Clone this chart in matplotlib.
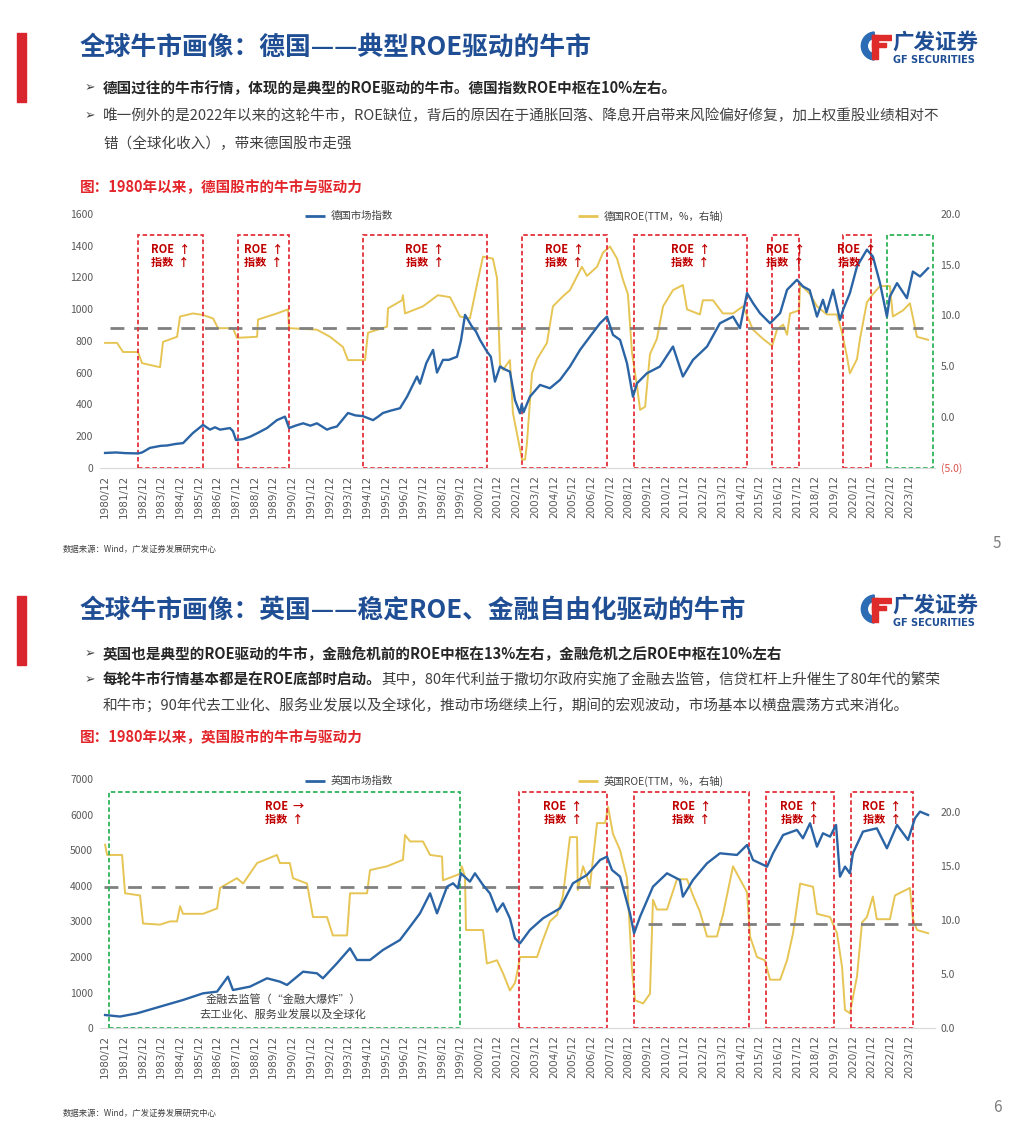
import matplotlib
matplotlib.use("Agg")
import matplotlib.pyplot as plt
from matplotlib.patches import Rectangle, Wedge
from matplotlib.lines import Line2D

plt.rcParams['font.family'] = ['Noto Sans CJK SC', 'DejaVu Sans']

W, H = 1024, 1126

# ---------------- data (decimal years) ----------------
# Germany market index (left axis)
de_idx_t = [1980.92, 1981.5, 1982.0, 1982.68, 1982.9, 1983.32, 1983.9, 1984.23, 1984.7, 1985.09,
            1985.62, 1986.16, 1986.53, 1986.8, 1987.07, 1987.6, 1987.76, 1987.92, 1988.3, 1988.67,
            1989.1, 1989.58, 1990.11, 1990.54, 1990.76, 1991.1, 1991.51, 1991.9, 1992.25, 1992.79,
            1993.0, 1993.32, 1993.91, 1994.3, 1994.71, 1995.25, 1995.5, 1995.78, 1996.2, 1996.69,
            1997.07, 1997.6, 1997.76, 1998.1, 1998.46, 1998.67, 1998.99, 1999.3, 1999.74, 1999.95,
            2000.17, 2000.54, 2000.75, 2000.97, 2001.34, 2001.55, 2001.77, 2002.04, 2002.3, 2002.57,
            2002.84, 2003.11, 2003.2, 2003.3, 2003.64, 2004.18, 2004.71, 2005.25, 2005.78, 2006.32,
            2006.85, 2007.39, 2007.76, 2008.08, 2008.46, 2008.83, 2009.15, 2009.37, 2009.6, 2009.9,
            2010.59, 2011.29, 2011.82, 2012.36, 2013.11, 2013.8, 2014.5, 2014.87, 2015.25, 2015.57,
            2015.94, 2016.48, 2017.02, 2017.39, 2017.92, 2018.24, 2018.6, 2018.99, 2019.31, 2019.5,
            2019.85, 2020.22, 2020.4, 2020.75, 2021.13, 2021.66, 2021.98, 2022.36, 2022.73, 2022.89,
            2023.27, 2023.8, 2024.12, 2024.5, 2024.93]
de_idx_v = [93, 96, 92, 90, 96, 125, 138, 140, 150, 155,
            219, 270, 240, 255, 240, 250, 230, 175, 180, 195,
            220, 250, 300, 322, 250, 265, 280, 265, 280, 240,
            250, 260, 345, 330, 325, 300, 320, 345, 360, 375,
            448, 575, 530, 660, 743, 600, 680, 680, 700, 800,
            964, 890, 860, 806, 733, 700, 543, 638, 620, 606,
            427, 343, 400, 350, 448, 522, 501, 554, 638, 743,
            827, 911, 953, 838, 806, 659, 448, 533, 560, 596,
            638, 764, 575, 680, 764, 911, 953, 880, 1101, 1038,
            975, 911, 975, 1122, 1185, 1143, 1120, 953, 1059, 980,
            1122, 932, 1000, 1101, 1269, 1375, 1332, 1164, 953, 1080,
            1164, 1069, 1237, 1206, 1258]

# Germany ROE (TTM, %, right axis)
de_roe_t = [1980.92, 1981.56, 1981.88, 1982.68, 1982.9, 1983.86, 1984.02, 1984.77, 1984.93, 1985.62,
            1986.16, 1986.7, 1986.96, 1987.76, 1987.97, 1989.05, 1989.1, 1990.11, 1990.7, 1990.76,
            1992.25, 1992.95, 1993.64, 1993.91, 1994.82, 1994.98, 1996.0, 1996.05, 1996.8, 1996.85,
            1996.96, 1997.92, 1998.72, 1999.37, 1999.9, 2000.43, 2000.86, 2001.13, 2001.66, 2001.88,
            2002.04, 2002.2, 2002.57, 2002.73, 2003.22, 2003.38, 2003.48, 2003.75, 2004.02, 2004.55,
            2004.87, 2005.41, 2005.78, 2006.42, 2006.69, 2007.23, 2007.55, 2007.92, 2008.3, 2008.62,
            2008.88, 2009.1, 2009.37, 2009.53, 2009.8, 2010.06, 2010.43, 2010.76, 2011.29, 2011.82,
            2012.04, 2012.73, 2012.89, 2013.43, 2013.96, 2014.5, 2015.03, 2015.57, 2016.1, 2016.59,
            2016.85, 2017.18, 2017.39, 2017.55, 2018.03, 2018.09, 2018.62, 2018.99, 2019.52, 2020.06,
            2020.33, 2020.59, 2020.75, 2021.13, 2021.29, 2021.66, 2021.98, 2022.36, 2022.89, 2023.05,
            2023.59, 2023.96, 2024.34, 2024.93]
de_roe_v = [7.3, 7.3, 6.4, 6.4, 5.3, 4.9, 7.4, 7.9, 9.9, 10.2,
            10.05, 9.7, 8.75, 8.75, 7.8, 7.9, 9.6, 10.2, 10.6, 8.75,
            8.6, 7.9, 6.9, 5.6, 5.6, 8.3, 8.9, 10.7, 11.5, 12.0,
            10.2, 10.9, 12.0, 11.8, 9.9, 9.7, 13.5, 15.8, 15.6, 13.7,
            5.2, 4.65, 5.6, 0.4, -4.2, -4.2, -2.6, 4.3, 5.7, 7.3,
            10.9, 11.9, 12.5, 14.8, 13.9, 14.8, 16.2, 16.8, 15.6, 13.5,
            12.1, 6.3, 3.0, 0.7, 1.0, 6.2, 7.7, 10.9, 12.5, 13.0,
            10.6, 10.1, 11.5, 11.5, 10.2, 10.2, 10.9, 8.6, 7.7, 7.0,
            8.6, 9.1, 8.1, 10.2, 10.5, 13.1, 12.1, 10.9, 10.1, 10.1,
            8.3, 6.0, 4.3, 5.7, 7.7, 11.3, 12.1, 12.9, 12.9, 9.9,
            10.5, 11.2, 7.9, 7.6]

# UK market index (left axis)
uk_idx_t = [1980.92, 1981.72, 1982.63, 1983.86, 1985.09, 1986.16, 1986.91, 1987.49, 1987.76, 1988.67,
            1989.58, 1990.27, 1990.65, 1991.51, 1992.25, 1992.57, 1993.32, 1994.02, 1994.39, 1995.09,
            1995.78, 1996.69, 1997.23, 1997.76, 1998.3, 1998.67, 1999.21, 1999.53, 1999.79, 1999.95,
            2000.43, 2000.7, 2001.13, 2001.5, 2001.88, 2002.2, 2002.57, 2002.84, 2003.11, 2003.64,
            2004.34, 2005.25, 2005.94, 2006.69, 2007.39, 2007.76, 2008.03, 2008.46, 2008.99, 2009.21,
            2009.53, 2010.22, 2010.97, 2011.66, 2011.82, 2012.36, 2013.11, 2013.8, 2014.71, 2015.25,
            2015.57, 2016.32, 2016.64, 2017.18, 2017.92, 2018.24, 2018.62, 2018.99, 2019.31, 2019.69,
            2020.01, 2020.22, 2020.49, 2020.75, 2020.91, 2021.45, 2022.19, 2022.73, 2023.27, 2023.86,
            2024.23, 2024.5, 2024.93]
uk_idx_v = [373, 330, 420, 608, 795, 982, 1030, 1450, 1075, 1170,
            1404, 1310, 1217, 1590, 1544, 1404, 1825, 2246, 1918, 1918,
            2199, 2480, 2854, 3228, 3790, 3228, 3977, 4071, 3930, 4352,
            4118, 4352, 4024, 3790, 3275, 3509, 3088, 2527, 2386, 2761,
            3089, 3370, 4071, 4305, 4726, 4820, 4445, 4258, 3229, 2668,
            3135, 3977, 4352, 4164, 3696, 4164, 4633, 4914, 4867, 5148,
            4726, 4539, 4914, 5428, 5570, 5335, 5757, 5101, 5476, 5382,
            5710, 4258, 4539, 4352, 4914, 5522, 5616, 5054, 5710, 5289,
            5897, 6084, 5990]

# UK ROE (TTM, %, right axis)
uk_roe_t = [1980.92, 1981.03, 1981.83, 1981.99, 1982.79, 1982.95, 1983.86, 1984.4, 1984.77, 1984.93,
            1985.09, 1986.16, 1986.91, 1987.07, 1987.97, 1988.3, 1989.05, 1990.11, 1990.27, 1990.8,
            1990.97, 1991.72, 1992.04, 1992.79, 1993.1, 1993.86, 1994.02, 1994.93, 1995.09, 1996.0,
            1996.85, 1996.96, 1997.23, 1997.92, 1998.3, 1998.94, 1998.99, 1999.9, 2000.0, 2000.17,
            2000.22, 2001.13, 2001.34, 2001.88, 2002.2, 2002.57, 2002.84, 2002.95, 2003.11, 2004.02,
            2004.34, 2004.71, 2005.09, 2005.41, 2005.78, 2006.16, 2006.2, 2006.48, 2006.85, 2007.23,
            2007.66, 2007.82, 2008.08, 2008.46, 2008.83, 2009.1, 2009.26, 2009.69, 2010.06, 2010.22,
            2010.43, 2010.97, 2011.5, 2012.04, 2012.36, 2012.73, 2013.11, 2013.64, 2013.96, 2014.5,
            2014.87, 2015.25, 2015.41, 2015.78, 2016.2, 2016.48, 2017.02, 2017.39, 2017.71, 2018.09,
            2018.78, 2018.99, 2019.69, 2020.06, 2020.33, 2020.49, 2020.75, 2021.13, 2021.4, 2021.66,
            2021.98, 2022.19, 2022.89, 2023.16, 2023.96, 2024.12, 2024.34, 2024.93]
uk_roe_v = [17.0, 16.05, 16.05, 12.5, 12.3, 9.7, 9.6, 9.9, 9.9, 11.3,
            10.6, 10.6, 11.1, 13.0, 13.9, 13.4, 15.3, 16.05, 15.3, 15.3,
            13.9, 13.4, 10.3, 10.3, 8.6, 8.6, 12.5, 12.5, 14.65, 15.0,
            15.6, 17.9, 17.3, 17.3, 16.05, 15.9, 13.7, 14.3, 15.0, 14.0,
            9.1, 9.1, 6.0, 6.3, 5.1, 3.5, 4.2, 5.1, 6.6, 6.6,
            8.2, 9.9, 10.5, 12.3, 17.7, 17.7, 12.8, 15.0, 13.2, 19.0,
            19.0, 20.5, 18.0, 16.5, 13.9, 5.4, 2.6, 2.3, 3.2, 11.9,
            11.0, 11.0, 13.8, 13.8, 12.3, 10.8, 8.5, 8.5, 10.5, 15.0,
            13.8, 12.6, 8.5, 6.6, 6.3, 4.5, 4.5, 6.3, 8.8, 13.4,
            13.1, 10.6, 10.3, 8.8, 5.7, 1.7, 1.4, 4.8, 9.8, 10.3,
            12.2, 10.1, 10.1, 12.3, 13.0, 10.1, 9.1, 8.8]

# bull-market windows (start, end) and their labels
de_boxes = [(1982.68, 1986.16), (1988.03, 1990.76), (1994.71, 2001.34), (2003.22, 2007.76),
            (2009.21, 2015.25), (2016.59, 2018.03), (2020.37, 2021.88), (2022.73, 2025.2)]
de_box_green = [False, False, False, False, False, False, False, True]
de_box_text = [('ROE  ↑', '指数  ↑')] * 7 + [None]

uk_boxes = [(1981.13, 1999.9), (2003.06, 2007.76), (2009.21, 2015.36), (2016.26, 2019.9), (2020.8, 2024.12)]
uk_box_green = [True, False, False, False, False]
uk_box_text = [('ROE  →', '指数  ↑')] + [('ROE  ↑', '指数  ↑')] * 4

# ROE "centre" reference lines: (start, end, level)
de_ref = [(1981.18, 2024.66, 8.8)]
uk_ref = [(1980.86, 2008.88, 13.06), (2009.95, 2024.66, 9.7)]

years = list(range(1980, 2024))
tick_pos = [y + 11 / 12 for y in years]
tick_lab = ['{}/12'.format(y) for y in years]

BLUE = '#2B64A5'
GOLD = '#E6C555'
RED_BOX = '#E4313C'
GREEN_BOX = '#2DB35A'
ANN_RED = '#C00000'
TITLE_BLUE = '#1F4E94'
GRAY_TXT = '#595959'

fig = plt.figure(figsize=(W / 100, H / 100), dpi=100)
fig.patch.set_facecolor('white')


def fx(x):
    return x / W


def fy(y):
    return 1 - y / H


def put(x, y, s, **kw):
    kw.setdefault('va', 'center')
    return fig.text(fx(x), fy(y), s, **kw)


def draw_logo(yc):
    lax = fig.add_axes([fx(860), fy(yc + 15), 32 / W, 30 / H])
    lax.set_xlim(-1.15, 1.25)
    lax.set_ylim(-1.12, 1.12)
    lax.axis('off')
    lax.add_patch(Wedge((0, 0), 1.05, 95, 265, width=0.45, color='#2B6CB5'))
    lax.add_patch(Rectangle((-0.22, -1.0), 0.42, 1.8, color='#E02B2B'))
    lax.add_patch(Rectangle((-0.22, 0.45), 1.4, 0.34, color='#E02B2B'))
    lax.add_patch(Rectangle((-0.22, -0.1), 1.05, 0.32, color='#E02B2B'))
    put(892, yc - 4, '广发证券', fontsize=15.5, weight='bold', color=TITLE_BLUE)
    put(893, yc + 14, 'GF SECURITIES', fontsize=7, weight='bold', color=TITLE_BLUE,
        family='DejaVu Sans')


def draw_header(y0, title):
    fig.add_artist(Rectangle((fx(17), fy(y0 + 69)), 9 / W, 69 / H, color='#D9262E',
                             transform=fig.transFigure))
    put(80, y0 + 14, title, fontsize=18.5, weight='bold', color=TITLE_BLUE)
    draw_logo(y0 + 13)


def bullet(y):
    put(85, y, '➢', fontsize=9, color='#404040', family=['DejaVu Sans'])


def draw_chart(top, bottom, idx_t, idx_v, roe_t, roe_v, idx_max, idx_step,
               roe_lo, roe_hi, roe_ticks, boxes, greens, texts, box_top, text_y,
               refs, idx_name, roe_name):
    ax = fig.add_axes([fx(100), fy(bottom), (935 - 100) / W, (bottom - top) / H])
    ax2 = ax.twinx()
    ax.set_zorder(ax2.get_zorder() + 1)
    ax.patch.set_visible(False)

    x0 = 1980 + 11 / 12 - 5 / 18.7
    x1 = 1980 + 11 / 12 + 830 / 18.7
    ax.set_xlim(x0, x1)
    ax.set_ylim(0, idx_max)
    ax2.set_ylim(roe_lo, roe_hi)

    ax2.plot(roe_t, roe_v, color=GOLD, lw=1.4, zorder=2)
    for a, b, lev in refs:
        ax2.plot([a, b], [lev, lev], color='#808080', lw=2, dashes=(5, 3.5), zorder=3)
    ax.plot(idx_t, idx_v, color=BLUE, lw=1.7, zorder=4)

    for (a, b), g, t in zip(boxes, greens, texts):
        ax.add_patch(Rectangle((a, 0), b - a, box_top, fill=False,
                               edgecolor=GREEN_BOX if g else RED_BOX,
                               lw=1.3, ls=(0, (2.5, 1.5)), zorder=1))
        if t:
            c = (a + b) / 2
            ax.text(c, text_y[0], t[0], ha='center', va='center', fontsize=8,
                    weight='bold', color=ANN_RED, zorder=5)
            ax.text(c, text_y[1], t[1], ha='center', va='center', fontsize=8,
                    weight='bold', color=ANN_RED, zorder=5)

    for s in ['top', 'left', 'right']:
        ax.spines[s].set_visible(False)
        ax2.spines[s].set_visible(False)
    ax2.spines['bottom'].set_visible(False)
    ax.spines['bottom'].set_color('#D9D9D9')

    ax.set_xticks(tick_pos)
    ax.set_xticklabels(tick_lab, rotation=90, fontsize=7.5, color=GRAY_TXT,
                       family='DejaVu Sans')
    ax.tick_params(axis='x', length=0, pad=5)
    ax.set_yticks(range(0, idx_max + 1, idx_step))
    ax.tick_params(axis='y', length=0, pad=5, labelsize=7.5, labelcolor=GRAY_TXT)
    ax2.set_yticks(roe_ticks)
    labs = ['({:.1f})'.format(-v) if v < 0 else '{:.1f}'.format(v) for v in roe_ticks]
    ax2.set_yticklabels(labs)
    ax2.tick_params(axis='y', length=0, pad=4, labelsize=7.5, labelcolor=GRAY_TXT)
    for v, tl in zip(roe_ticks, ax2.get_yticklabels()):
        if v < 0:
            tl.set_color('#D9534F')

    # legend, drawn by hand to keep the wide Excel spacing
    ly = top + 2
    fig.add_artist(Line2D([fx(305), fx(325)], [fy(ly), fy(ly)], color=BLUE, lw=2,
                          solid_capstyle='butt'))
    put(331, ly, idx_name, fontsize=7.5, color='#404040')
    fig.add_artist(Line2D([fx(578), fx(598)], [fy(ly), fy(ly)], color=GOLD, lw=2,
                          solid_capstyle='butt'))
    put(604, ly, roe_name, fontsize=7.5, color='#404040')
    return ax


# ---------------- page 5 : Germany ----------------
draw_header(33, '全球牛市画像：德国——典型ROE驱动的牛市')
bullet(88)
put(103, 88, '德国过往的牛市行情，体现的是典型的ROE驱动的牛市。德国指数ROE中枢在10%左右。',
    fontsize=10.5, weight='bold', color='#262626')
bullet(116)
put(103, 116, '唯一例外的是2022年以来的这轮牛市，ROE缺位，背后的原因在于通胀回落、降息开启带来风险偏好修复，加上权重股业绩相对不',
    fontsize=10.5, color='#404040')
put(103, 144, '错（全球化收入），带来德国股市走强', fontsize=10.5, color='#404040')
put(80, 187, '图：1980年以来，德国股市的牛市与驱动力', fontsize=10.5, weight='bold', color='#E3262B')

draw_chart(214, 467.7, de_idx_t, de_idx_v, de_roe_t, de_roe_v, 1600, 200,
           -5, 20, [-5, 0, 5, 10, 15, 20], de_boxes, de_box_green, de_box_text,
           1467, (1373, 1291), de_ref, '德国市场指数', '德国ROE(TTM，%，右轴)')

put(63, 549, '数据来源：Wind，广发证券发展研究中心', fontsize=6, color='#404040')
put(993, 543, '5', fontsize=11, color='#7F7F7F')

# ---------------- page 6 : UK ----------------
draw_header(596, '全球牛市画像：英国——稳定ROE、金融自由化驱动的牛市')
bullet(654)
put(103, 654, '英国也是典型的ROE驱动的牛市，金融危机前的ROE中枢在13%左右，金融危机之后ROE中枢在10%左右',
    fontsize=10.5, weight='bold', color='#262626')
bullet(680)
bold_part = put(103, 680, '每轮牛市行情基本都是在ROE底部时启动。', fontsize=10.5, weight='bold',
                color='#262626')
renderer = fig.canvas.get_renderer()
bb = bold_part.get_window_extent(renderer)
put(103 + bb.width, 680, '其中，80年代利益于撒切尔政府实施了金融去监管，信贷杠杆上升催生了80年代的繁荣',
    fontsize=10.5, color='#404040')
put(103, 706, '和牛市；90年代去工业化、服务业发展以及全球化，推动市场继续上行，期间的宏观波动，市场基本以横盘震荡方式来消化。',
    fontsize=10.5, color='#404040')
put(80, 737, '图：1980年以来，英国股市的牛市与驱动力', fontsize=10.5, weight='bold', color='#E3262B')

uk_top = 6634
ax_uk = draw_chart(779, 1028.3, uk_idx_t, uk_idx_v, uk_roe_t, uk_roe_v, 7000, 1000,
                   0, 7000 / 28.08 / 10.8, [0, 5, 10, 15, 20], uk_boxes, uk_box_green, uk_box_text,
                   uk_top, (6214, 5849), uk_ref, '英国市场指数', '英国ROE(TTM，%，右轴)')
put(283, 1000, '金融去监管（“金融大爆炸”）', fontsize=8, color='#404040', ha='center')
put(283, 1015, '去工业化、服务业发展以及全球化', fontsize=8, color='#404040', ha='center')

put(63, 1113, '数据来源：Wind，广发证券发展研究中心', fontsize=6, color='#404040')
put(993, 1107, '6', fontsize=11, color='#7F7F7F')

fig.savefig('out.png', dpi=100)
